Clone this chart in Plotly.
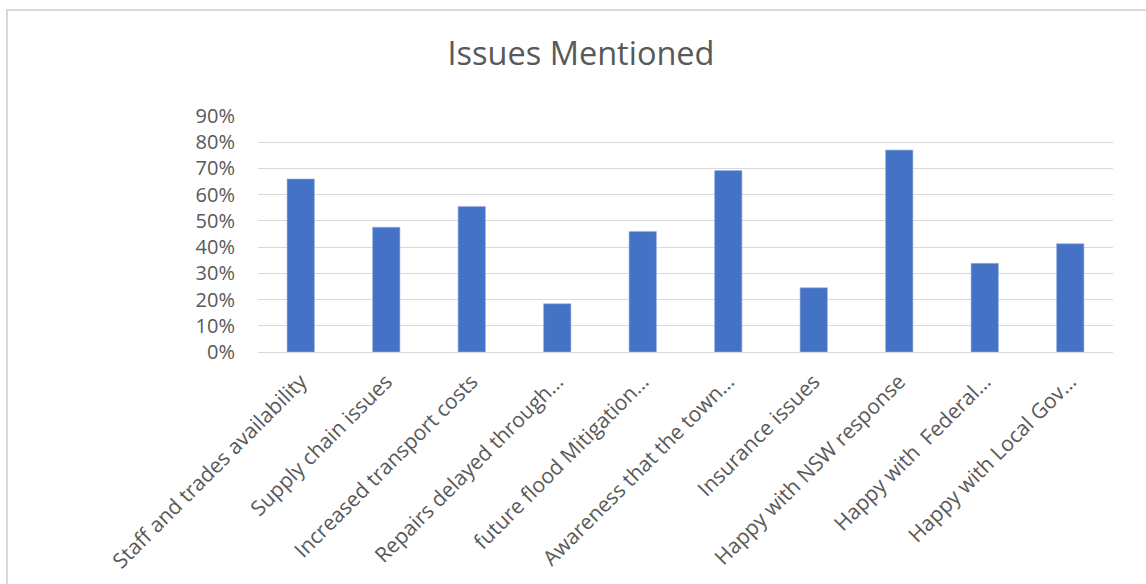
import plotly.graph_objects as go

categories = [
    "Staff and trades availability",
    "Supply chain issues",
    "Increased transport costs",
    "Repairs delayed through…",
    "future flood Mitigation…",
    "Awareness that the town…",
    "Insurance issues",
    "Happy with NSW response",
    "Happy with \u00a0Federal…",
    "Happy with Local Gov…",
]
values = [0.66, 0.476, 0.555, 0.184, 0.46, 0.692, 0.245, 0.77, 0.338, 0.413]
tick_vals = [0, 0.1, 0.2, 0.3, 0.4, 0.5, 0.6, 0.7, 0.8, 0.9]
tick_text = ["0%", "10%", "20%", "30%", "40%", "50%", "60%", "70%", "80%", "90%"]

fig = go.Figure()
fig.add_trace(go.Bar(
    x=categories, y=values,
    marker=dict(color="#4472C4", line=dict(color="#9DB3E0", width=0.6)),
    width=0.32,
))

fig.update_layout(
    width=1146, height=584,
    margin=dict(l=258, r=33, t=116, b=232),
    paper_bgcolor="white", plot_bgcolor="white",
    font=dict(family="Open Sans", color="#595959"),
    title=dict(text="Issues Mentioned", x=0.507, xanchor="center",
               y=1 - 54 / 584, yanchor="middle", yref="container",
               font=dict(family="Open Sans", size=32.5, color="#595959")),
    showlegend=False,
)
fig.update_xaxes(
    tickangle=-45, tickfont=dict(size=21, color="#595959"),
    showgrid=False, showline=True, linecolor="#d9d9d9", linewidth=1,
    ticks="", automargin=False, ticklabelstandoff=8,
)
fig.update_yaxes(
    range=[0, 0.9], tickvals=tick_vals, ticktext=tick_text,
    tickfont=dict(size=20, color="#595959"),
    showgrid=True, gridcolor="#d9d9d9", gridwidth=1,
    zeroline=False, showline=False, ticks="", ticklen=0,
    automargin=False, ticklabelstandoff=22,
)
fig.add_shape(type="rect", xref="paper", yref="paper",
              x0=(7 - 258) / 855, x1=(1160 - 258) / 855,
              y0=(352 - 600) / 236, y1=(352 - 10) / 236,
              line=dict(color="#d9d9d9", width=2), fillcolor="rgba(0,0,0,0)",
              layer="below")

fig.write_html("out.html")
